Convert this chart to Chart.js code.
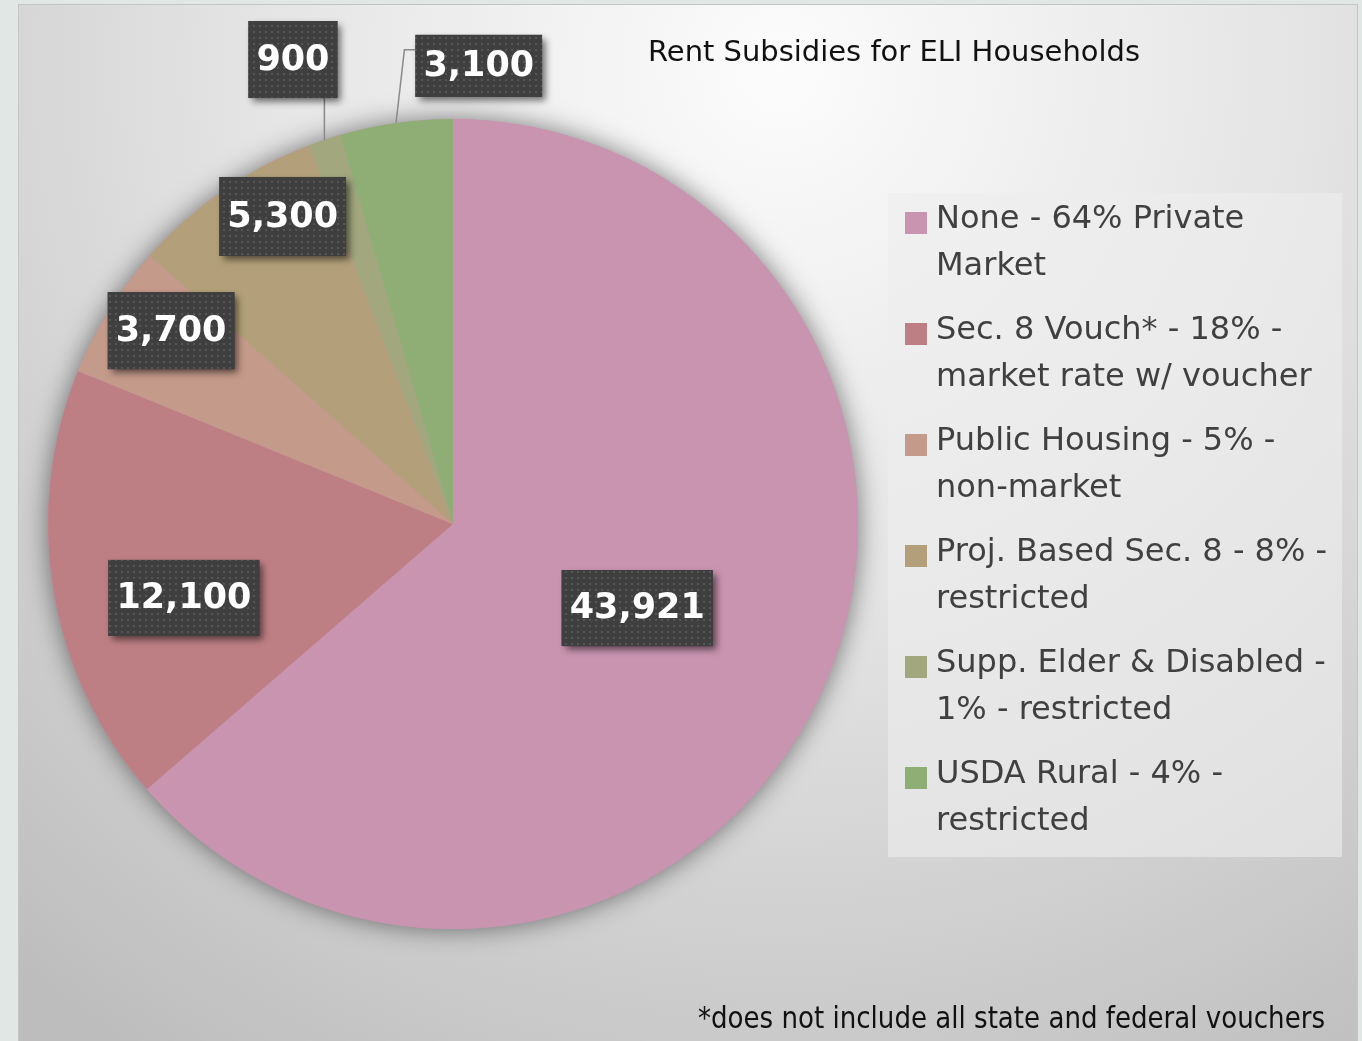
<!DOCTYPE html>
<html><head><meta charset="utf-8">
<script src="https://cdn.jsdelivr.net/npm/chart.js@4.4.1/dist/chart.umd.min.js"></script>
<style>html,body{margin:0;padding:0;background:#e1e7e5;overflow:hidden}canvas{display:block}</style>
</head><body><canvas id="c" width="1362" height="1041"></canvas>
<script>
const chartTitle = 'Rent Subsidies for ELI Households';
const footnote = '*does not include all state and federal vouchers';
const categories = [
  'None - 64% Private Market',
  'Sec. 8 Vouch* - 18% - market rate w/ voucher',
  'Public Housing - 5% - non-market',
  'Proj. Based Sec. 8 - 8% - restricted',
  'Supp. Elder & Disabled - 1% - restricted',
  'USDA Rural - 4% - restricted'
];
const households = [43921, 12100, 3700, 5300, 900, 3100];
const sliceColors = ['#c994b0', '#bd7f84', '#c49a8a', '#b3a07a', '#a2a77e', '#8fae76'];
// label placement: [radius fraction, angle offset (deg) from slice middle]
const labelPlacement = [[0.50, 0], [0.689, -6], [0.844, 2.6], [0.868, 5.7], [1.213, -0.5], [1.133, 11.3]];
const labelBoxHeights = [76, 76, 77, 79, 77, 62];

const fmt = new Intl.NumberFormat('en-US');

function dotPattern(ctx) {
  const p = document.createElement('canvas');
  p.width = 6; p.height = 6;
  const g = p.getContext('2d');
  g.fillStyle = '#3f3f3f'; g.fillRect(0, 0, 6, 6);
  g.fillStyle = '#565656'; g.fillRect(1, 1, 2, 2);
  return ctx.createPattern(p, 'repeat');
}

function fitText(ctx, text, x, y, targetW) {
  const w = ctx.measureText(text).width;
  ctx.save();
  ctx.translate(x, y);
  ctx.scale(targetW / w, 1);
  ctx.fillText(text, 0, 0);
  ctx.restore();
}

function wrap(ctx, text, maxW) {
  const words = text.split(' ');
  const lines = [];
  let cur = '';
  for (const w of words) {
    const t = cur ? cur + ' ' + w : w;
    if (ctx.measureText(t).width > maxW && cur) { lines.push(cur); cur = w; }
    else cur = t;
  }
  if (cur) lines.push(cur);
  return lines;
}

const decor = {
  id: 'decor',
  beforeDraw(chart) {
    const ctx = chart.ctx;
    ctx.save();
    ctx.fillStyle = '#e1e7e5';
    ctx.fillRect(0, 0, chart.width, chart.height);
    const g = ctx.createRadialGradient(780, 70, 0, 780, 70, 1180);
    g.addColorStop(0, '#fcfcfc');
    g.addColorStop(0.45, '#e4e4e4');
    g.addColorStop(1, '#bdbdbd');
    ctx.fillStyle = g;
    ctx.fillRect(18, 4, 1340, 1050);
    ctx.strokeStyle = '#c4c4c4';
    ctx.lineWidth = 1;
    ctx.strokeRect(18.5, 4.5, 1339, 1050);
    ctx.restore();
  },
  beforeDatasetsDraw(chart) {
    const ctx = chart.ctx;
    const a = chart.getDatasetMeta(0).data[0];
    ctx.save();
    ctx.shadowColor = 'rgba(0,0,0,0.5)';
    ctx.shadowBlur = 26;
    ctx.fillStyle = sliceColors[0];
    ctx.beginPath();
    ctx.arc(a.x, a.y, a.outerRadius, 0, Math.PI * 2);
    ctx.fill();
    ctx.restore();
  },
  afterDatasetsDraw(chart) {
    const ctx = chart.ctx;
    const arcs = chart.getDatasetMeta(0).data;
    const pat = dotPattern(ctx);
    ctx.save();
    ctx.font = 'bold 35px "DejaVu Sans"';
    const boxes = arcs.map((a, i) => {
      const mid = (a.startAngle + a.endAngle) / 2;
      const [frac, dDeg] = labelPlacement[i];
      const ang = mid + dDeg * Math.PI / 180;
      const r = frac * a.outerRadius;
      const cx = a.x + r * Math.cos(ang), cy = a.y + r * Math.sin(ang);
      const txt = fmt.format(households[i]);
      const w = ctx.measureText(txt).width + 16;
      const h = labelBoxHeights[i];
      return { txt, frac, mid, a, x: cx - w / 2, y: cy - h / 2, w, h, cx, cy };
    });
    // leader lines
    ctx.strokeStyle = '#8a8a8a';
    ctx.lineWidth = 1.5;
    boxes.forEach(b => {
      if (b.frac <= 1) return;
      const ex = b.a.x + b.a.outerRadius * Math.cos(b.mid);
      const ey = b.a.y + b.a.outerRadius * Math.sin(b.mid);
      ctx.beginPath();
      ctx.moveTo(ex, ey);
      if (ex >= b.x && ex <= b.x + b.w) {
        ctx.lineTo(ex, b.y + b.h);
      } else {
        ctx.lineTo(b.x - 11, b.y + 15);
        ctx.lineTo(b.x, b.y + 15);
      }
      ctx.stroke();
    });
    // boxes
    boxes.forEach(b => {
      ctx.save();
      ctx.shadowColor = 'rgba(0,0,0,0.55)';
      ctx.shadowBlur = 7;
      ctx.shadowOffsetX = 4;
      ctx.shadowOffsetY = 4;
      ctx.fillStyle = '#3f3f3f';
      ctx.fillRect(b.x, b.y, b.w, b.h);
      ctx.restore();
      ctx.fillStyle = pat;
      ctx.fillRect(b.x, b.y, b.w, b.h);
      ctx.fillStyle = '#ffffff';
      ctx.textAlign = 'center';
      ctx.textBaseline = 'middle';
      ctx.fillText(b.txt, b.cx, b.cy + 1);
    });
    ctx.restore();

    // title
    ctx.save();
    ctx.fillStyle = '#111111';
    ctx.font = '28px "DejaVu Sans"';
    ctx.textBaseline = 'alphabetic';
    fitText(ctx, chartTitle, 648, 61, 492);
    // footnote
    ctx.font = '31px "DejaVu Sans Condensed", "DejaVu Sans"';
    fitText(ctx, footnote, 698, 1028, 627);
    ctx.restore();

    // legend
    ctx.save();
    ctx.fillStyle = 'rgba(238,238,238,0.62)';
    ctx.fillRect(888, 193, 454, 664);
    ctx.font = '32px "DejaVu Sans"';
    ctx.textBaseline = 'middle';
    categories.forEach((c, i) => {
      const y0 = 220 + i * 111;
      ctx.fillStyle = sliceColors[i];
      ctx.fillRect(905, y0 - 8, 22, 22);
      ctx.fillStyle = '#404040';
      wrap(ctx, c, 412).forEach((ln, k) => ctx.fillText(ln, 936, y0 + k * 47));
    });
    ctx.restore();
  }
};

new Chart(document.getElementById('c'), {
  type: 'pie',
  data: {
    labels: categories,
    datasets: [{ data: households, backgroundColor: sliceColors, borderWidth: 0 }]
  },
  options: {
    responsive: false,
    animation: false,
    layout: { padding: { left: 48, right: 504, top: 119, bottom: 112 } },
    plugins: { legend: { display: false }, tooltip: { enabled: false }, title: { display: false } }
  },
  plugins: [decor]
});
</script>
</body></html>
